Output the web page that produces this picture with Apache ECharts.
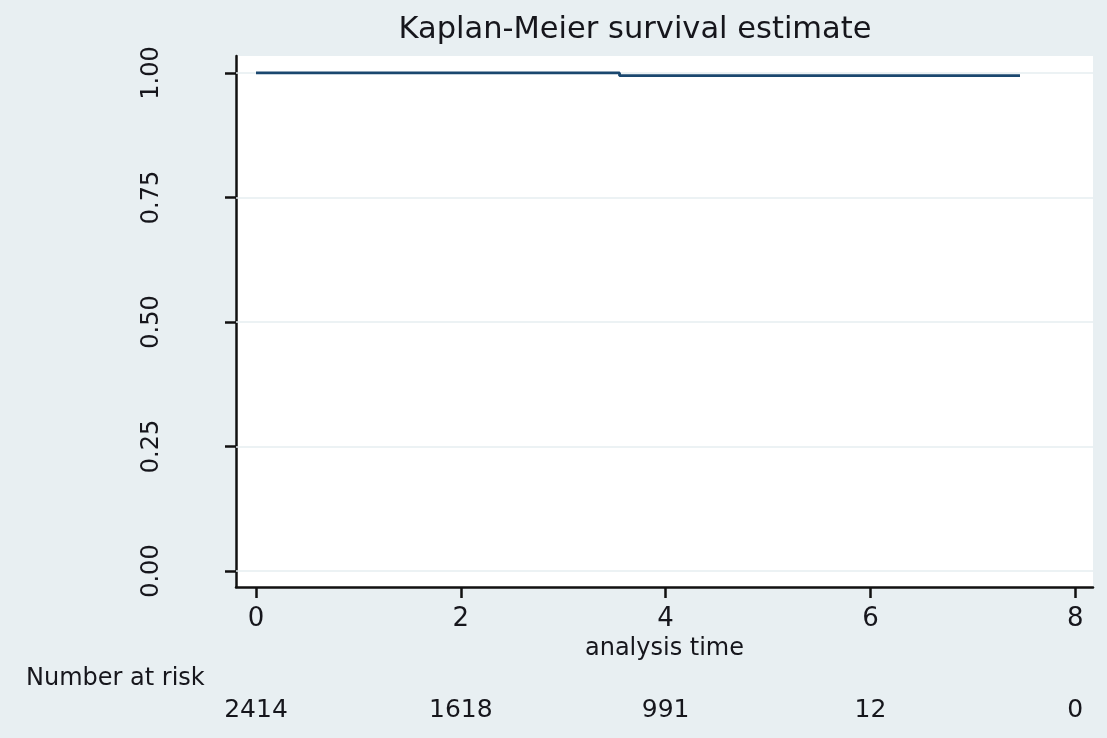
<!DOCTYPE html>
<html>
<head>
<meta charset="utf-8">
<script src="https://cdn.jsdelivr.net/npm/echarts@6/dist/echarts.min.js"></script>
<style>
html,body{margin:0;padding:0;background:#e8eff2;}
#chart{width:1107px;height:738px;}
</style>
</head>
<body>
<div id="chart"></div>
<script>
// Data
var titleText = "Kaplan-Meier survival estimate";
var xAxisTitle = "analysis time";
var riskTitle = "Number at risk";
var kmTimes = [0, 3.55, 7.46];
var kmSurvival = [1.0, 0.9946, 0.9946];
var xTicks = [0, 2, 4, 6, 8];
var riskCounts = [2414, 1618, 991, 12, 0];
var yTicks = [0, 0.25, 0.5, 0.75, 1.0];
var yTickLabels = ["0.00", "0.25", "0.50", "0.75", "1.00"];

var FONT = "DejaVu Sans";
var TXT = "#16161c";

var chart = echarts.init(document.getElementById('chart'), null, {renderer: 'canvas'});

var kmData = kmTimes.map(function (t, i) { return [t, kmSurvival[i]]; });

var option = {
  backgroundColor: '#e8eff2',
  animation: false,
  title: {
    text: titleText,
    left: 630,
    top: 10,
    textAlign: 'center',
    textStyle: {fontFamily: FONT, fontSize: 30.5, fontWeight: 'normal', color: TXT}
  },
  grid: {
    left: 236, top: 56, right: 14, bottom: 151,
    show: true, backgroundColor: '#ffffff', borderWidth: 0
  },
  xAxis: [{
    type: 'value',
    min: -0.195, max: 8.173,
    position: 'bottom',
    name: xAxisTitle,
    nameLocation: 'middle',
    nameGap: 44,
    nameTextStyle: {fontFamily: FONT, fontSize: 24, color: TXT},
    axisLine: {show: true, onZero: false, lineStyle: {color: '#111', width: 2.5}},
    axisTick: {show: true, length: 11, customValues: xTicks, lineStyle: {color: '#111', width: 2.5}},
    axisLabel: {
      customValues: xTicks, margin: 19, fontFamily: FONT, fontSize: 26, color: TXT,
      formatter: function (v) { return String(v); }
    },
    splitLine: {show: false}
  }, {
    type: 'value',
    min: -0.195, max: 8.173,
    position: 'bottom',
    offset: 100,
    axisLine: {show: false, onZero: false},
    axisTick: {show: false},
    axisLabel: {
      customValues: xTicks, margin: 11, fontFamily: FONT, fontSize: 25, color: TXT,
      formatter: function (v) {
        var i = xTicks.indexOf(v);
        return i >= 0 ? String(riskCounts[i]) : '';
      }
    },
    splitLine: {show: false}
  }],
  yAxis: {
    type: 'value',
    min: -0.032, max: 1.034,
    axisLine: {show: true, onZero: false, lineStyle: {color: '#111', width: 2.5}},
    axisTick: {show: true, length: 11, customValues: yTicks, lineStyle: {color: '#111', width: 2.5}},
    axisLabel: {
      customValues: yTicks, rotate: 90, margin: 72,
      fontFamily: FONT, fontSize: 24, color: TXT,
      formatter: function (v) {
        var i = yTicks.indexOf(v);
        return i >= 0 ? yTickLabels[i] : '';
      }
    },
    splitLine: {show: false}
  },
  graphic: [{
    type: 'text',
    left: 26, top: 667,
    style: {text: riskTitle, font: '24px "DejaVu Sans"', fill: TXT}
  }],
  series: [{
    type: 'line',
    xAxisIndex: 0,
    data: [],
    z: 1,
    markLine: {
      silent: true,
      symbol: 'none',
      label: {show: false},
      lineStyle: {color: '#e6eef1', width: 1.5, type: 'solid'},
      data: yTicks.map(function (v) { return {yAxis: v}; })
    }
  }, {
    type: 'line',
    xAxisIndex: 0,
    step: 'end',
    data: kmData,
    showSymbol: false,
    symbol: 'none',
    lineStyle: {color: '#1a476f', width: 2.8},
    z: 5
  }]
};
chart.setOption(option);
</script>
</body>
</html>
